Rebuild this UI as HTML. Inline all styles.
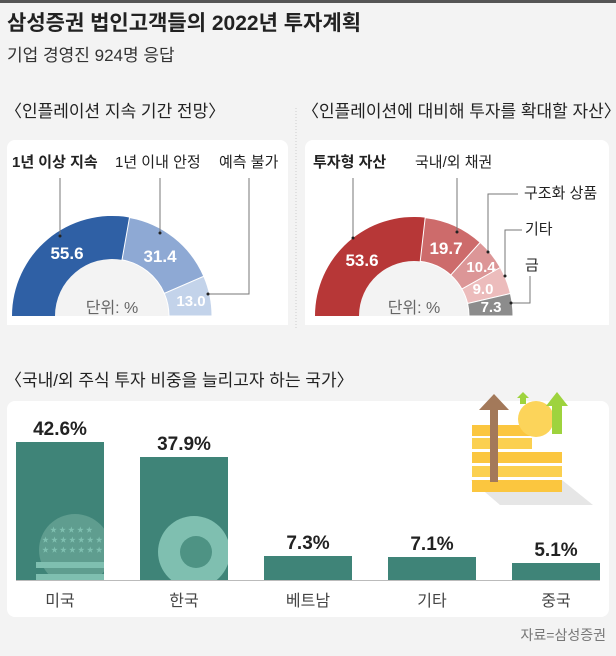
<!DOCTYPE html>
<html><head><meta charset="utf-8"><style>
body{margin:0;background:#f3f3f3;}
svg{display:block;font-family:"Liberation Sans","Noto Sans CJK KR",sans-serif;}
</style></head><body>
<svg width="616" height="656" viewBox="0 0 616 656" xmlns="http://www.w3.org/2000/svg">
<defs>
<clipPath id="b1"><rect x="16" y="442" width="88" height="138"/></clipPath>
<clipPath id="b2"><rect x="140" y="457" width="88" height="123"/></clipPath>
</defs>
<rect width="616" height="656" fill="#f3f3f3"/>
<rect width="616" height="3" fill="#555"/>
<text x="7" y="30" font-size="21" font-weight="bold" fill="#222">삼성증권 법인고객들의 2022년 투자계획</text>
<text x="7" y="61" font-size="17" fill="#333">기업 경영진 924명 응답</text>
<text x="5" y="117" font-size="17" fill="#222">〈인플레이션 지속 기간 전망〉</text>
<text x="302" y="117" font-size="17" fill="#222">〈인플레이션에 대비해 투자를 확대할 자산〉</text>
<line x1="296" y1="108" x2="296" y2="330" stroke="#ccc" stroke-dasharray="1 2"/>
<rect x="7" y="140" width="281" height="185" rx="8" fill="#fff"/>
<rect x="305" y="140" width="304" height="185" rx="8" fill="#fff"/>
<!-- left donut -->
<circle cx="112" cy="316" r="57" fill="#f3f3f3"/>
<path d="M12,316 A100,100 0 0 1 129.5,217.5 L122,259.9 A57,57 0 0 0 55,316Z" fill="#2f60a5"/>
<path d="M129.5,217.5 A100,100 0 0 1 203.8,276.3 L164.3,293.4 A57,57 0 0 0 122,259.9Z" fill="#8ea9d4" stroke="#fff" stroke-width="1"/>
<path d="M203.8,276.3 A100,100 0 0 1 212,316 L169,316 A57,57 0 0 0 164.3,293.4Z" fill="#c3d3ea" stroke="#fff" stroke-width="1"/>
<rect x="7" y="316" width="281" height="9" fill="#fff"/>
<g font-size="15" fill="#222">
<text x="12" y="167" font-weight="bold">1년 이상 지속</text>
<text x="115" y="167">1년 이내 안정</text>
<text x="219" y="167">예측 불가</text>
</g>
<g stroke="#777" fill="none"><path d="M60,178V236"/><path d="M160,178V233"/><path d="M249,178V294H208"/></g>
<g fill="#222"><circle cx="60" cy="236" r="1.5"/><circle cx="160" cy="233" r="1.5"/><circle cx="208" cy="294" r="1.5"/></g>
<g font-size="17" fill="#fff" font-weight="bold" text-anchor="middle">
<text x="67" y="259">55.6</text><text x="160" y="262">31.4</text><text x="191" y="306" font-size="15">13.0</text>
</g>
<text x="112" y="313" font-size="16" fill="#666" text-anchor="middle">단위: %</text>
<!-- right donut -->
<circle cx="414" cy="316" r="55" fill="#f3f3f3"/>
<path d="M315,316 A99,99 0 0 1 425.2,217.6 L420.2,261.4 A55,55 0 0 0 359,316Z" fill="#b73737"/>
<path d="M425.2,217.6 A99,99 0 0 1 480.2,242.4 L450.8,275.1 A55,55 0 0 0 420.2,261.4Z" fill="#cd6b6b" stroke="#fff"/>
<path d="M480.2,242.4 A99,99 0 0 1 500.3,267.5 L461.9,289.1 A55,55 0 0 0 450.8,275.1Z" fill="#dc9697" stroke="#fff"/>
<path d="M500.3,267.5 A99,99 0 0 1 510.4,293.5 L467.6,303.5 A55,55 0 0 0 461.9,289.1Z" fill="#ecbcbc" stroke="#fff"/>
<path d="M510.4,293.5 A99,99 0 0 1 513,316 L469,316 A55,55 0 0 0 467.6,303.5Z" fill="#8c8c8c" stroke="#fff"/>
<rect x="305" y="316" width="304" height="9" fill="#fff"/>
<g font-size="15" fill="#222">
<text x="313" y="167" font-weight="bold">투자형 자산</text>
<text x="415" y="167">국내/외 채권</text>
<text x="524" y="198">구조화 상품</text>
<text x="525" y="234">기타</text>
<text x="525" y="270">금</text>
</g>
<g stroke="#777" fill="none"><path d="M353,178V238"/><path d="M457,178V232"/><path d="M518,194H488V252"/><path d="M522,230H505V276"/><path d="M530,276V303H511"/></g>
<g fill="#222"><circle cx="353" cy="238" r="1.5"/><circle cx="457" cy="232" r="1.5"/><circle cx="488" cy="252" r="1.5"/><circle cx="505" cy="276" r="1.5"/><circle cx="511" cy="303" r="1.5"/></g>
<g font-size="17" fill="#fff" font-weight="bold" text-anchor="middle">
<text x="362" y="266">53.6</text><text x="446" y="254">19.7</text><text x="481" y="272" font-size="15">10.4</text><text x="483" y="294" font-size="15">9.0</text><text x="491" y="312" font-size="15">7.3</text>
</g>
<text x="414" y="313" font-size="16" fill="#666" text-anchor="middle">단위: %</text>
<!-- bar section -->
<text x="5" y="386" font-size="17" fill="#222">〈국내/외 주식 투자 비중을 늘리고자 하는 국가〉</text>
<rect x="7" y="401" width="602" height="216" rx="8" fill="#fff"/>
<!-- icon -->
<path d="M471,480 L562,480 L593,505 L500,505Z" fill="#e6e6e6"/>
<rect x="472" y="425" width="60" height="11" fill="#fbc63f"/>
<rect x="472" y="438" width="60" height="11" fill="#fbd050"/>
<rect x="472" y="452" width="90" height="11" fill="#fbc63f"/>
<rect x="472" y="466" width="90" height="11" fill="#fbd050"/>
<rect x="472" y="480" width="90" height="12" fill="#fbc63f"/>
<circle cx="536" cy="419" r="18" fill="#fcd45a"/>
<path d="M479,410 L494,394 L509,410 L498,410 L498,482 L490,482 L490,410Z" fill="#a3795a"/>
<path d="M546,406 L557,392 L568,406 L562,406 L562,434 L552,434 L552,406Z" fill="#9ed33e"/>
<path d="M517,398 L523,392 L529,398 L526,398 L526,404 L520,404 L520,398Z" fill="#9ed33e"/>
<g fill="#3f8478">
<rect x="16" y="442" width="88" height="138"/>
<rect x="140" y="457" width="88" height="123"/>
<rect x="264" y="556" width="88" height="24"/>
<rect x="388" y="557" width="88" height="23"/>
<rect x="512" y="563" width="88" height="17"/>
</g>
<g clip-path="url(#b1)">
<circle cx="75" cy="550" r="36" fill="#5f9d8f"/>
<rect x="36" y="562" width="80" height="6" fill="#7fbfb0"/>
<rect x="36" y="574" width="80" height="8" fill="#7fbfb0"/>
<g fill="#7fbfb0" font-size="7"><text x="50" y="532">★ ★ ★ ★ ★</text><text x="42" y="542">★ ★ ★ ★ ★ ★ ★</text><text x="42" y="552">★ ★ ★ ★ ★ ★ ★</text></g>
</g>
<g clip-path="url(#b2)">
<circle cx="194" cy="552" r="36" fill="#7fbfb0"/>
<circle cx="196" cy="552" r="16" fill="#4e9384"/>
</g>
<line x1="16" y1="580.5" x2="600" y2="580.5" stroke="#bbb"/>
<g font-size="19" font-weight="bold" fill="#222" text-anchor="middle">
<text x="60" y="435">42.6%</text><text x="184" y="450">37.9%</text><text x="308" y="549">7.3%</text><text x="432" y="550">7.1%</text><text x="556" y="556">5.1%</text>
</g>
<g font-size="16" fill="#444" text-anchor="middle">
<text x="60" y="606">미국</text><text x="184" y="606">한국</text><text x="308" y="606">베트남</text><text x="432" y="606">기타</text><text x="556" y="606">중국</text>
</g>
<text x="606" y="640" font-size="14" fill="#777" text-anchor="end">자료=삼성증권</text>
</svg>
</body></html>
